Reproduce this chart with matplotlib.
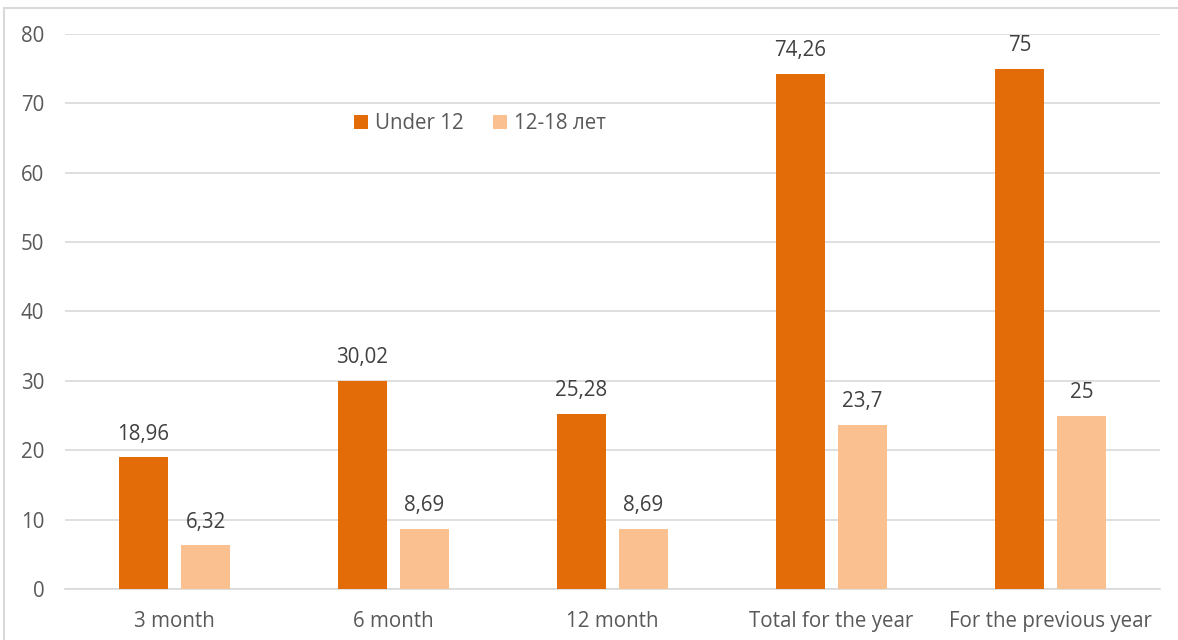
import matplotlib
matplotlib.use('Agg')
import matplotlib.pyplot as plt
from matplotlib.patches import Rectangle
import numpy as np

categories = ['3 month', '6 month', '12 month', 'Total for the year', 'For the previous year']
under12 = [18.96, 30.02, 25.28, 74.26, 75]
teens = [6.32, 8.69, 8.69, 23.7, 25]
series_names = ['Under 12', '12-18 лет']

DARK = '#E36C09'
LIGHT = '#FAC090'
TXT = '#595959'
FS = 14.8

plt.rcParams['font.family'] = ['Open Sans', 'DejaVu Sans']

fig = plt.figure(figsize=(11.78, 6.40), dpi=100)
ax = fig.add_axes([0.0552, 0.0797, 0.9295, 0.8672])

x = np.arange(len(categories))
w = 0.224
off = 0.142
b1 = ax.bar(x - off, under12, w, color=DARK, label=series_names[0], zorder=3)
b2 = ax.bar(x + off, teens, w, color=LIGHT, label=series_names[1], zorder=3)

def fmt(v):
    return ('%g' % v).replace('.', ',')

for bars, vals in ((b1, under12), (b2, teens)):
    for r, v in zip(bars, vals):
        ax.annotate(fmt(v), (r.get_x() + r.get_width() / 2, v), xytext=(0, 23),
                    textcoords='offset pixels', ha='center', va='center',
                    fontsize=FS, color='#404040')

ax.set_xlim(-0.5, len(categories) - 0.5)
ax.set_ylim(0, 80)
ax.set_yticks(range(0, 81, 10))
ax.set_xticks(x)
ax.set_xticklabels(categories)
ax.tick_params(axis='both', length=0, labelsize=FS, labelcolor=TXT)
ax.tick_params(axis='y', pad=15)
ax.tick_params(axis='x', pad=16)
ax.grid(axis='y', color='#D9D9D9', linewidth=1.2, zorder=0)
for s in ['top', 'right', 'left']:
    ax.spines[s].set_visible(False)
ax.spines['bottom'].set_color('#D9D9D9')
ax.spines['bottom'].set_linewidth(1.2)

ax.legend(loc='center', bbox_to_anchor=(0.379, 0.838), ncol=2, frameon=False,
          fontsize=FS, labelcolor=TXT, handlelength=0.7, handleheight=0.7,
          handletextpad=0.35, columnspacing=1.4)

fig.patches.append(Rectangle((4 / 1178, -0.1), 1.2, 1.1 - 8 / 640, transform=fig.transFigure,
                             fill=False, edgecolor='#D9D9D9', linewidth=1.5))

fig.savefig('out.png', dpi=100)
